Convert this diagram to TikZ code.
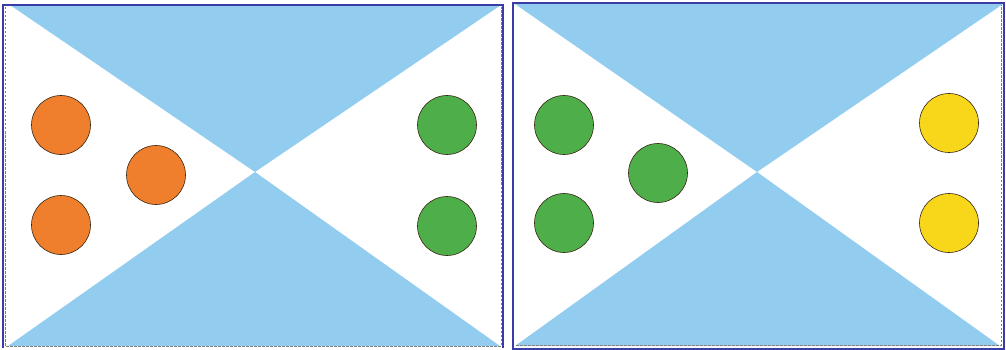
\documentclass[tikz,border=0pt]{standalone}
\usetikzlibrary{positioning}
\definecolor{skyblue}{HTML}{92CCEF}
\definecolor{frameblue}{HTML}{3A3DA8}
\definecolor{ballorange}{HTML}{EF7F2C}
\definecolor{ballgreen}{HTML}{4DAE4A}
\definecolor{ballyellow}{HTML}{F8D71A}
\tikzset{
  panel/.style = {draw = frameblue, line width = 1.2pt},
  innerframe/.style = {draw = gray, dash pattern = on 2.5pt off 1.5pt,
    line width = 0.7pt},
  sky/.style = {fill = skyblue, draw = none},
  ball/.style = {circle, draw = black!70!brown, line width = 0.6pt,
    minimum size = 59pt, inner sep = 0pt},
  orange ball/.style = {ball, fill = ballorange},
  green ball/.style = {ball, fill = ballgreen},
  yellow ball/.style = {ball, fill = ballyellow}
}

\begin{document}
\begin{tikzpicture}[x = 1pt, y = -1pt]

\useasboundingbox (0,0) rectangle (1006,350);

% left panel
\fill [sky] (10,5) -- (501,5) -- (255,172) -- cycle;
\fill [sky] (8,346) -- (500,346) -- (255,172) -- cycle;
\draw [innerframe] (5,7) -- (5,346) -- (501,346) -- (501,7);
\draw [panel] (3,348) -- (3,5) -- (503,5) -- (503,348);

\node [orange ball] (l1) at (61,125) {};
\node [orange ball] (l2) at (156,175) {};
\node [orange ball] (l3) at (61,225) {};
\node [green ball] (l4) at (447,125) {};
\node [green ball] (l5) at (447,226) {};

% right panel
\fill [sky] (515,4) -- (1003,4) -- (757,172) -- cycle;
\fill [sky] (515,346) -- (1000,346) -- (757,172) -- cycle;
\draw [innerframe] (516,345) -- (1001,345) -- (1001,5);
\draw [panel] (513,3) rectangle (1004,349);

\node [green ball] (r1) at (564,125) {};
\node [green ball] (r2) at (658,173) {};
\node [green ball] (r3) at (564,223) {};
\node [yellow ball] (r4) at (949,123) {};
\node [yellow ball] (r5) at (949,223) {};

\end{tikzpicture}
\end{document}
